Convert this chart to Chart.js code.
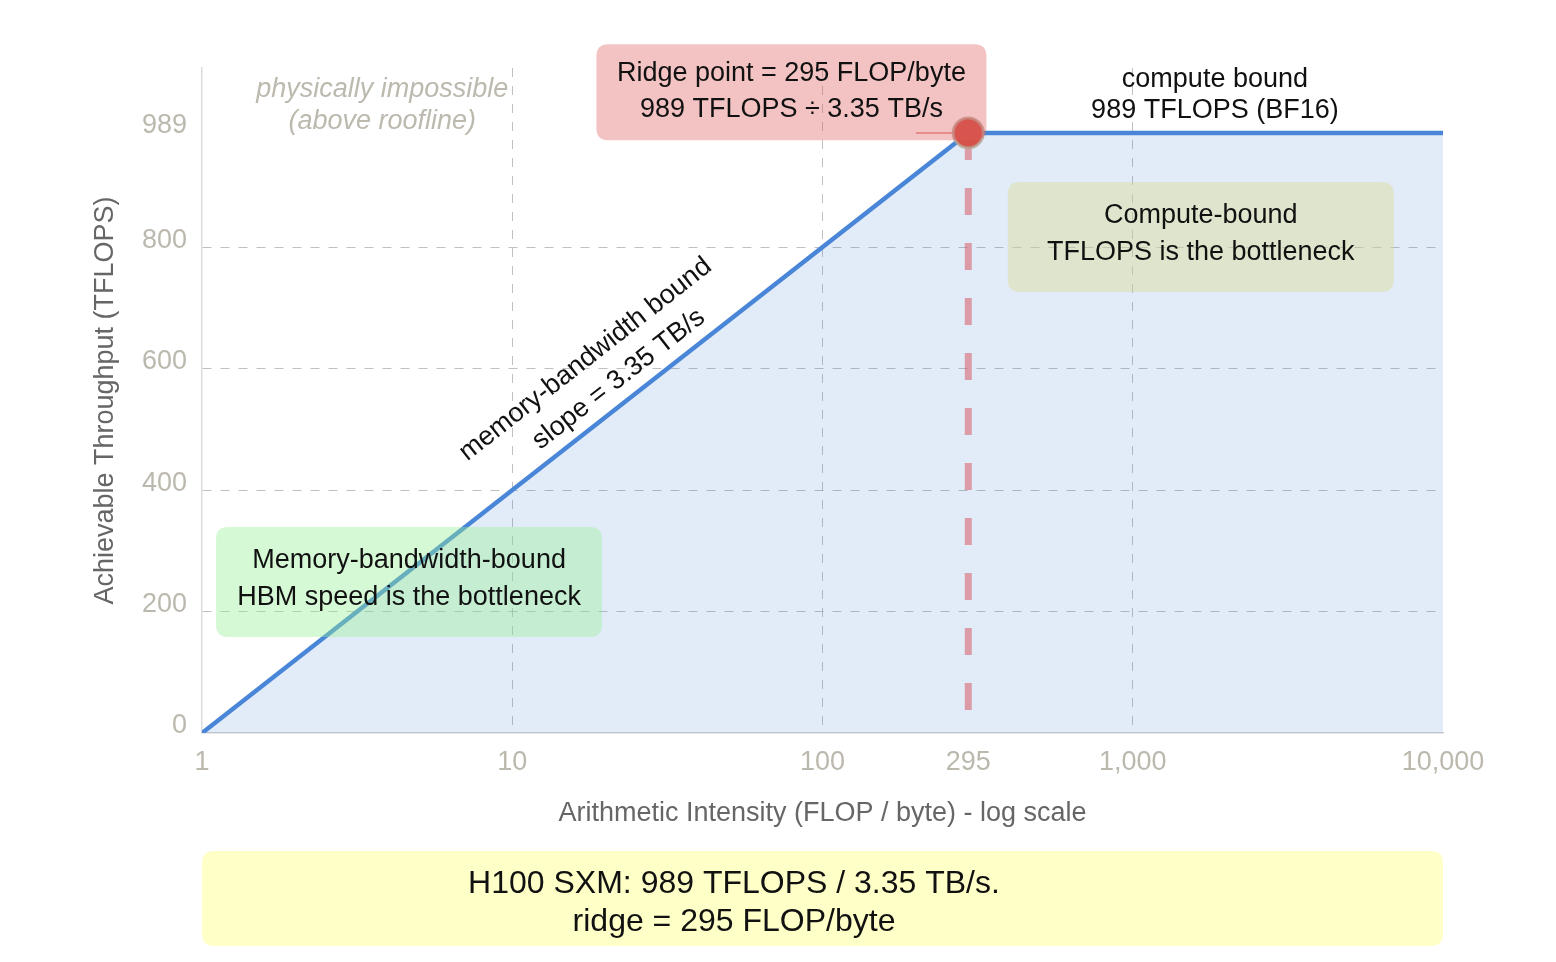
<!DOCTYPE html>
<html><head><meta charset="utf-8">
<script src="https://cdn.jsdelivr.net/npm/chart.js@4.4.1/dist/chart.umd.min.js"></script>
<style>html,body{margin:0;padding:0;background:#fff;overflow:hidden}#wrap{width:1556px;height:962px}</style>
</head><body><div id="wrap"><canvas id="c" width="1556" height="962"></canvas></div>
<script>
// ---- data ----
const intensity = [1, 295, 10000];          // FLOP / byte
const throughput = [0, 989, 989];           // TFLOPS
const ridgeLineX = [295, 295];
const ridgeLineY = [989, 0];
const leaderX = [200, 295];
const leaderY = [989, 989];
const ridgePointX = [295];
const ridgePointY = [989];
const xTickValues = [1, 10, 100, 295, 1000, 10000];
const yTickValues = [0, 200, 400, 600, 800, 989];
const xGridValues = [10, 100, 1000];
const yGridValues = [200, 400, 600, 800];

const FONT = '"Liberation Sans", Arial, Helvetica, sans-serif';
Chart.defaults.font.family = FONT;

const toPts = (xs, ys) => xs.map((v, i) => ({x: v, y: ys[i]}));

const annotations = [
  {x: 3.81, y: 1036.6, lines: ['physically impossible', '(above roofline)'], offs: [-14.5, 17.5], font: 'italic 27px ' + FONT, color: '#bcb9af'},
  {x: 79.4, y: 1056, w: 390, h: 96, fill: 'rgba(222,90,90,0.36)', lines: ['Ridge point = 295 FLOP/byte', '989 TFLOPS \u00f7 3.35 TB/s'], offs: [-19, 17.5], font: '27px ' + FONT, color: '#111'},
  {x: 1840, y: 1055.5, lines: ['compute bound', '989 TFLOPS (BF16)'], offs: [-13.5, 17.5], font: '27px ' + FONT, color: '#111'},
  {x: 1657, y: 817.4, w: 386, h: 110, fill: 'rgba(220,220,150,0.45)', lines: ['Compute-bound', 'TFLOPS is the bottleneck'], offs: [-21, 16], font: '27px ' + FONT, color: '#111'},
  {x: 4.65, y: 248.8, w: 386, h: 110, fill: 'rgba(150,238,150,0.4)', lines: ['Memory-bandwidth-bound', 'HBM speed is the bottleneck'], offs: [-21, 16], font: '27px ' + FONT, color: '#111'},
  {x: 18.8, y: 601.5, rotateAlong: true, lines: ['memory-bandwidth bound', 'slope = 3.35 TB/s'], dxs: [-4, 10], offs: [-14, 22], font: '27px ' + FONT, color: '#111'}
];
const footer = {lines: ['H100 SXM: 989 TFLOPS / 3.35 TB/s.', 'ridge = 295 FLOP/byte'], offs: [33, 71], gapTop: 118, h: 95, textX: 532, font: '32px ' + FONT, fill: '#ffffc8'};

function rr(ctx, x, y, w, h, r) {
  ctx.beginPath();
  ctx.moveTo(x + r, y);
  ctx.lineTo(x + w - r, y); ctx.quadraticCurveTo(x + w, y, x + w, y + r);
  ctx.lineTo(x + w, y + h - r); ctx.quadraticCurveTo(x + w, y + h, x + w - r, y + h);
  ctx.lineTo(x + r, y + h); ctx.quadraticCurveTo(x, y + h, x, y + h - r);
  ctx.lineTo(x, y + r); ctx.quadraticCurveTo(x, y, x + r, y);
  ctx.closePath();
}

const annoPlugin = {
  id: 'anno',
  afterDatasetsDraw(chart) {
    const {ctx, scales: {x, y}, chartArea} = chart;
    ctx.save();
    ctx.textAlign = 'center';
    ctx.textBaseline = 'middle';
    const p0x = x.getPixelForValue(intensity[0]), p0y = y.getPixelForValue(throughput[0]);
    const p1x = x.getPixelForValue(intensity[1]), p1y = y.getPixelForValue(throughput[1]);
    const ang = Math.atan2(p1y - p0y, p1x - p0x);
    for (const a of annotations) {
      const cx = x.getPixelForValue(a.x), cy = y.getPixelForValue(a.y);
      if (a.w) {
        ctx.fillStyle = a.fill;
        rr(ctx, cx - a.w / 2, cy - a.h / 2, a.w, a.h, 12);
        ctx.fill();
      }
      ctx.font = a.font; ctx.fillStyle = a.color;
      if (a.rotateAlong) {
        ctx.save();
        ctx.translate(cx, cy); ctx.rotate(ang);
        a.lines.forEach((t, i) => ctx.fillText(t, a.dxs[i], a.offs[i]));
        ctx.restore();
      } else {
        a.lines.forEach((t, i) => ctx.fillText(t, cx, cy + a.offs[i]));
      }
    }
    // footer box
    const top = chartArea.bottom + footer.gapTop;
    ctx.fillStyle = footer.fill;
    rr(ctx, chartArea.left, top, chartArea.right - chartArea.left, footer.h, 12);
    ctx.fill();
    ctx.font = footer.font; ctx.fillStyle = '#111';
    footer.lines.forEach((t, i) => ctx.fillText(t, chartArea.left + footer.textX, top + footer.offs[i]));
    ctx.restore();
  }
};

const gridCol = 'rgba(140,140,140,0.55)';
new Chart(document.getElementById('c'), {
  type: 'line',
  data: {
    datasets: [
      {data: toPts(ridgePointX, ridgePointY), order: 0, showLine: false, pointRadius: 15, pointBackgroundColor: '#d5524a', pointBorderColor: 'rgba(185,165,150,0.8)', pointBorderWidth: 3},
      {data: toPts(leaderX, leaderY), order: 1, borderColor: 'rgba(225,110,110,0.6)', borderWidth: 2, pointRadius: 0, fill: false},
      {data: toPts(ridgeLineX, ridgeLineY), order: 2, borderColor: 'rgba(214,90,100,0.55)', borderWidth: 7, borderDash: [27, 28], pointRadius: 0, fill: false},
      {data: toPts(intensity, throughput), order: 3, borderColor: '#4a86d8', borderWidth: 4.5, borderCapStyle: 'round', backgroundColor: 'rgba(74,134,216,0.16)', fill: 'origin', pointRadius: 0, tension: 0}
    ]
  },
  options: {
    responsive: false,
    animation: false,
    devicePixelRatio: 1,
    layout: {padding: {top: 68, right: 113, bottom: 119, left: 0}},
    plugins: {legend: {display: false}, tooltip: {enabled: false}},
    scales: {
      x: {
        type: 'logarithmic', min: 1, max: 10000,
        afterBuildTicks: s => { s.ticks = xTickValues.map(v => ({value: v})); },
        afterFit: s => { s.height = 110; },
        ticks: {autoSkip: false, maxRotation: 0, padding: 13, color: '#bbb8ae', font: {size: 27},
          callback: v => Number(v).toLocaleString('en-US')},
        grid: {drawTicks: false, lineWidth: 1, color: c => (c.tick && xGridValues.includes(c.tick.value)) ? gridCol : 'rgba(0,0,0,0)'},
        border: {display: true, color: '#d0d0d0', width: 1.5, dash: [9, 9]},
        title: {display: true, text: 'Arithmetic Intensity (FLOP / byte) - log scale', color: '#666', font: {size: 27}, padding: {top: 0, bottom: 13}}
      },
      y: {
        type: 'linear', min: 0, max: 1096,
        afterBuildTicks: s => { s.ticks = yTickValues.map(v => ({value: v})); },
        afterFit: s => { s.width = 202; },
        ticks: {autoSkip: false, padding: 15, labelOffset: -7, color: '#bbb8ae', font: {size: 27}},
        grid: {drawTicks: false, lineWidth: 1, color: c => (c.tick && yGridValues.includes(c.tick.value)) ? gridCol : 'rgba(0,0,0,0)'},
        border: {display: true, color: '#dcdcdc', width: 1.5, dash: [9, 9]},
        title: {display: true, text: 'Achievable Throughput (TFLOPS)', color: '#666', font: {size: 27}, padding: {top: 89, bottom: 0}}
      }
    }
  },
  plugins: [annoPlugin]
});
</script>
</body></html>
